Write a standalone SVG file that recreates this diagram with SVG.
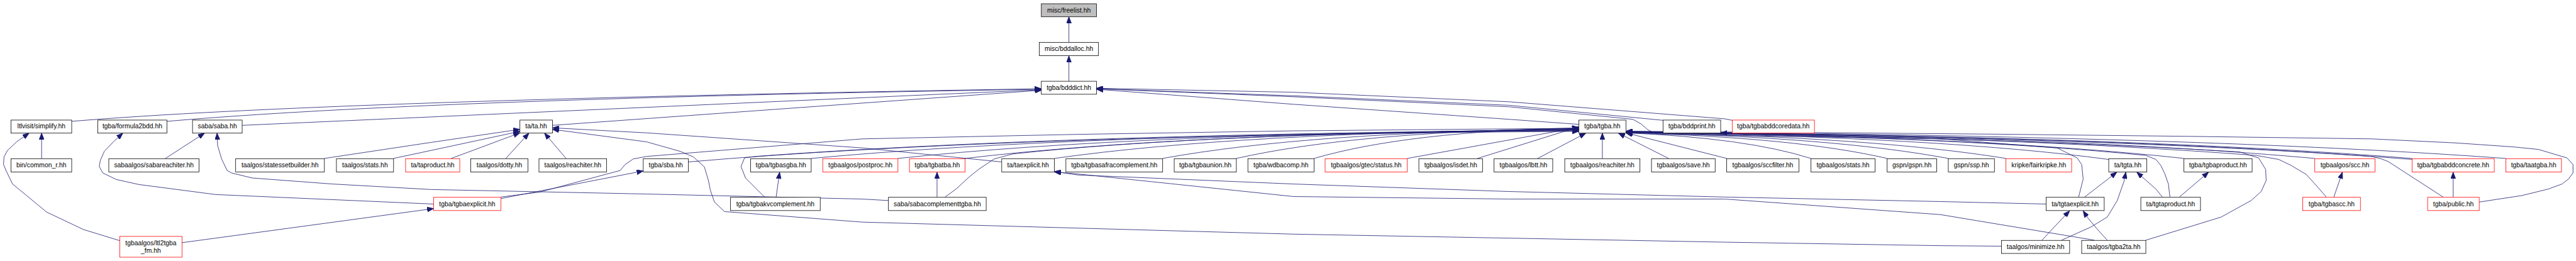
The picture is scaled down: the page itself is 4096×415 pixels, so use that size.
<svg xmlns="http://www.w3.org/2000/svg" width="4096" height="415" viewBox="0 0 4096 415">
<style>
.n rect{fill:#fff;stroke:#000;stroke-width:1}
.n.r rect{stroke:#f00}
.n.g rect{fill:#bfbfbf}
text{font-family:"Liberation Sans",Arial,Helvetica,sans-serif;font-size:13px;fill:#000;text-anchor:middle}
#edges path{fill:none;stroke:#191970;stroke-width:1;marker-end:url(#a)}
</style>
<defs>
<marker id="a" markerUnits="userSpaceOnUse" viewBox="0 0 13 10" markerWidth="13" markerHeight="10" refX="13" refY="5" orient="auto"><path d="M0,0L13,5L0,10z" fill="#191970" stroke="#191970" stroke-width="1"/></marker>
</defs>
<rect width="4096" height="415" fill="#fff"/>
<g transform="scale(0.79720)">
<g id="edges">
<path d="M2132,84 L2132,33.5"/>
<path d="M2132,162 L2132,111.5"/>
<path d="M143,242 Q650,200 2077,177"/>
<path d="M333,242 Q856,197 2077,178"/>
<path d="M483,250 L2077,179"/>
<path d="M1102,250 L2077,180"/>
<path d="M3149,248 L3010,238 L2580,208 L2187,178"/>
<path d="M3317,240 L3010,210 L2580,191 L2187,177"/>
<path d="M3455,240 L3440,237 L3010,203 L2580,184 L2187,176"/>
<path d="M4146,393 L4155,357 L4152,328 L4143,315 L4103,295 L3870,277 L3440,270 L3303,267 L3287,259 L3273,247 L3257,238 L3010,213 L2580,193 L2187,177"/>
<path d="M83,316 L83,265.5"/>
<path d="M239,480 L167,458 L93,423 L53,390 L25,367 L12,340 L7,328 L8,313 L15,300 L33,283 L58,265.5"/>
<path d="M865,407 L430,388 L277,368 L232,358 L205,345 L198,332 L200,320 L208,302 L227,282 L245,265.5"/>
<path d="M330,316 L408,265.5"/>
<path d="M1772,400 L1720,397 L1290,387 L860,378 L663,367 L503,355 L462,345 L453,340 L442,317 L434,290 L433,265.5"/>
<path d="M647,316 L860,284 L1037,258"/>
<path d="M785,316 L860,300 L1037,262"/>
<path d="M900,316 L1037,265"/>
<path d="M1009,316 L1055,265.5"/>
<path d="M1129,316 L1086,265.5"/>
<path d="M1998,323 L1720,295 L1290,265 L1102,255"/>
<path d="M3992,491 L3870,490 L3440,483 L3010,475 L2580,467 L2150,455 L1720,443 L1445,422 L1425,403 L1417,380 L1413,360 L1405,333 L1383,313 L1357,302 L1290,283 L1102,258"/>
<path d="M999,396 L1283,341"/>
<path d="M999,393 L1077,383 L1237,340 L1247,328 L1263,317 L1290,312 L1720,277 L2150,268 L2580,261 L3010,257 L3149,256"/>
<path d="M1373,323 Q1995,269 3149,262"/>
<path d="M1618,316 Q2150,266 3149,261"/>
<path d="M1791,316 Q2266,265 3149,260"/>
<path d="M1925,316 Q2354,265 3149,259"/>
<path d="M2103,316 Q2470,264 3149,258"/>
<path d="M2319,316 Q2610,263 3149,257"/>
<path d="M2466,316 Q2705,262 3149,256"/>
<path d="M2621,316 Q2806,262 3149,255"/>
<path d="M2807,316 L3149,254"/>
<path d="M2947,316 L3149,253"/>
<path d="M1525,393 L1487,355 L1478,332 L1485,315 L1507,312 Q2100,268 3149,259"/>
<path d="M1885,393 L1907,377 L1933,353 L1953,337 L1983,317 L2020,307 Q2400,266 3149,258"/>
<path d="M3067,316 L3163,265.5"/>
<path d="M3196,316 L3196,265.5"/>
<path d="M3328,316 L3228,265.5"/>
<path d="M3444,316 L3243,265"/>
<path d="M3612,316 Q3483,275 3243,265"/>
<path d="M3764,316 Q3582,274 3243,265"/>
<path d="M3886,316 Q3661,274 3243,264"/>
<path d="M4001,316 Q3736,273 3243,264"/>
<path d="M4206,318 Q3869,273 3243,264"/>
<path d="M4356,316 Q3966,273 3243,263"/>
<path d="M4617,316 Q4136,272 3243,263"/>
<path d="M4811,316 Q4262,272 3243,263"/>
<path d="M4811,318 Q4262,275 3432,265"/>
<path d="M4998,316 Q4384,271 3243,262"/>
<path d="M4640,393 L4620,370 L4600,348 L4570,330 L4545,318 L4500,310 Q4000,272 3243,263"/>
<path d="M4328,393 L4325,367 L4318,347 L4310,330 L4300,318 L4280,310 Q3900,272 3243,264"/>
<path d="M4873,393 L4763,322 L4750,317 L4730,312 Q4200,275 3243,262"/>
<path d="M4945,403 L5030,390 L5083,377 L5110,367 L5123,357 L5132,345 L5132,328 L5120,315 L5063,298 L5013,293 L4897,285 L4730,277 Q4000,266 3243,262"/>
<path d="M4280,479 L4300,473 L4430,433 L4490,400 L4510,382 L4520,360 L4519,338 L4505,315 L4467,303 Q4000,275 3243,263"/>
<path d="M4112,479 L4170,453 L4203,433 L4223,400 L4237,360 L4240,343.5"/>
<path d="M4073,479 L4097,453 L4128,420.5"/>
<path d="M4203,479 L4183,457 L4163,433 L4155,420.5"/>
<path d="M4158,393 L4222,343.5"/>
<path d="M4313,393 L4300,377 L4262,343.5"/>
<path d="M4347,393 L4405,343.5"/>
<path d="M4655,393 L4672,343.5"/>
<path d="M4893,393 L4893,343.5"/>
<path d="M1548,393 L1555,343.5"/>
<path d="M1869,393 L1869,343.5"/>
<path d="M4081,407 L3870,402 L3440,393 L3010,382 L2580,367 L2150,349 L2103,342"/>
<path d="M4177,479 L3870,428 L3440,397 L3010,397 L2580,392 L2150,347 L2103,343"/>
<path d="M363,484 L430,475 L865,416"/>
</g>
<g id="node-freelist" class="n g"><rect x="2077" y="7.5" width="110" height="26"/><text x="2132" y="25">misc/freelist.hh</text></g>
<g id="node-bddalloc" class="n"><rect x="2073" y="84.5" width="118" height="26.5"/><text x="2132" y="102">misc/bddalloc.hh</text></g>
<g id="node-bdddict" class="n"><rect x="2077" y="162" width="110" height="26"/><text x="2132" y="179.5">tgba/bdddict.hh</text></g>
<g id="node-simplify" class="n"><rect x="22" y="239.5" width="121" height="26"/><text x="82.5" y="256.5">ltlvisit/simplify.hh</text></g>
<g id="node-formula2bdd" class="n"><rect x="195" y="239.5" width="138" height="26"/><text x="264" y="256.5">tgba/formula2bdd.hh</text></g>
<g id="node-saba" class="n"><rect x="384" y="239.5" width="99" height="26"/><text x="433.5" y="256.5">saba/saba.hh</text></g>
<g id="node-ta" class="n"><rect x="1037" y="239.5" width="65" height="26"/><text x="1069.5" y="256.5">ta/ta.hh</text></g>
<g id="node-tgba" class="n"><rect x="3149" y="239.5" width="94" height="26"/><text x="3196" y="256.5">tgba/tgba.hh</text></g>
<g id="node-bddprint" class="n"><rect x="3317" y="239.5" width="115" height="26"/><text x="3374.5" y="256.5">tgba/bddprint.hh</text></g>
<g id="node-tgbabddcoredata" class="n r"><rect x="3455" y="239.5" width="164" height="26"/><text x="3537" y="256.5">tgba/tgbabddcoredata.hh</text></g>
<g id="node-common_r" class="n"><rect x="22" y="316.5" width="121" height="26.5"/><text x="82.5" y="334">bin/common_r.hh</text></g>
<g id="node-sabareachiter" class="n"><rect x="217" y="316.5" width="180" height="26.5"/><text x="307" y="334">sabaalgos/sabareachiter.hh</text></g>
<g id="node-statessetbuilder" class="n"><rect x="470" y="316.5" width="177" height="26.5"/><text x="558.5" y="334">taalgos/statessetbuilder.hh</text></g>
<g id="node-tastats" class="n"><rect x="671" y="316.5" width="114" height="26.5"/><text x="728" y="334">taalgos/stats.hh</text></g>
<g id="node-taproduct" class="n r"><rect x="809" y="316.5" width="108" height="26.5"/><text x="863" y="334">ta/taproduct.hh</text></g>
<g id="node-dotty" class="n"><rect x="939" y="316.5" width="114" height="26.5"/><text x="996" y="334">taalgos/dotty.hh</text></g>
<g id="node-tareachiter" class="n"><rect x="1075" y="316.5" width="135" height="26.5"/><text x="1142.5" y="334">taalgos/reachiter.hh</text></g>
<g id="node-sba" class="n"><rect x="1283" y="316.5" width="90" height="26.5"/><text x="1328" y="334">tgba/sba.hh</text></g>
<g id="node-tgbasgba" class="n"><rect x="1497" y="316.5" width="121" height="26.5"/><text x="1557.5" y="334">tgba/tgbasgba.hh</text></g>
<g id="node-postproc" class="n r"><rect x="1641" y="316.5" width="150" height="26.5"/><text x="1716" y="334">tgbaalgos/postproc.hh</text></g>
<g id="node-tgbatba" class="n r"><rect x="1814" y="316.5" width="111" height="26.5"/><text x="1869.5" y="334">tgba/tgbatba.hh</text></g>
<g id="node-taexplicit" class="n"><rect x="1998" y="316.5" width="105" height="26.5"/><text x="2050.5" y="334">ta/taexplicit.hh</text></g>
<g id="node-safra" class="n"><rect x="2126" y="316.5" width="193" height="26.5"/><text x="2222.5" y="334">tgba/tgbasafracomplement.hh</text></g>
<g id="node-tgbaunion" class="n"><rect x="2342" y="316.5" width="124" height="26.5"/><text x="2404" y="334">tgba/tgbaunion.hh</text></g>
<g id="node-wdbacomp" class="n"><rect x="2489" y="316.5" width="132" height="26.5"/><text x="2555" y="334">tgba/wdbacomp.hh</text></g>
<g id="node-status" class="n r"><rect x="2643" y="316.5" width="164" height="26.5"/><text x="2725" y="334">tgbaalgos/gtec/status.hh</text></g>
<g id="node-isdet" class="n"><rect x="2830" y="316.5" width="127" height="26.5"/><text x="2893.5" y="334">tgbaalgos/isdet.hh</text></g>
<g id="node-lbtt" class="n"><rect x="2980" y="316.5" width="117" height="26.5"/><text x="3038.5" y="334">tgbaalgos/lbtt.hh</text></g>
<g id="node-reachiter" class="n"><rect x="3121" y="316.5" width="150" height="26.5"/><text x="3196" y="334">tgbaalgos/reachiter.hh</text></g>
<g id="node-save" class="n"><rect x="3294" y="316.5" width="127" height="26.5"/><text x="3357.5" y="334">tgbaalgos/save.hh</text></g>
<g id="node-sccfilter" class="n"><rect x="3444" y="316.5" width="144" height="26.5"/><text x="3516" y="334">tgbaalgos/sccfilter.hh</text></g>
<g id="node-stats" class="n"><rect x="3612" y="316.5" width="128" height="26.5"/><text x="3676" y="334">tgbaalgos/stats.hh</text></g>
<g id="node-gspn" class="n"><rect x="3764" y="316.5" width="99" height="26.5"/><text x="3813.5" y="334">gspn/gspn.hh</text></g>
<g id="node-ssp" class="n"><rect x="3886" y="316.5" width="92" height="26.5"/><text x="3932" y="334">gspn/ssp.hh</text></g>
<g id="node-fairkripke" class="n r"><rect x="4001" y="316.5" width="131" height="26.5"/><text x="4066.5" y="334">kripke/fairkripke.hh</text></g>
<g id="node-tgta" class="n"><rect x="4206" y="316.5" width="76" height="26.5"/><text x="4244" y="334">ta/tgta.hh</text></g>
<g id="node-tgbaproduct" class="n"><rect x="4356" y="316.5" width="136" height="26.5"/><text x="4424" y="334">tgba/tgbaproduct.hh</text></g>
<g id="node-scc" class="n r"><rect x="4617" y="316.5" width="120" height="26.5"/><text x="4677" y="334">tgbaalgos/scc.hh</text></g>
<g id="node-tgbabddconcrete" class="n r"><rect x="4811" y="316.5" width="164" height="26.5"/><text x="4893" y="334">tgba/tgbabddconcrete.hh</text></g>
<g id="node-taatgba" class="n r"><rect x="4998" y="316.5" width="111" height="26.5"/><text x="5053.5" y="334">tgba/taatgba.hh</text></g>
<g id="node-tgbaexplicit" class="n r"><rect x="865" y="393.5" width="134" height="26.5"/><text x="932" y="411">tgba/tgbaexplicit.hh</text></g>
<g id="node-kvcomplement" class="n"><rect x="1457" y="393.5" width="179" height="26.5"/><text x="1546.5" y="411">tgba/tgbakvcomplement.hh</text></g>
<g id="node-sabacomplementtgba" class="n"><rect x="1772" y="393.5" width="195" height="26.5"/><text x="1869.5" y="411">saba/sabacomplementtgba.hh</text></g>
<g id="node-tgtaexplicit" class="n"><rect x="4081" y="393.5" width="116" height="26.5"/><text x="4139" y="411">ta/tgtaexplicit.hh</text></g>
<g id="node-tgtaproduct" class="n"><rect x="4270" y="393.5" width="119" height="26.5"/><text x="4329.5" y="411">ta/tgtaproduct.hh</text></g>
<g id="node-tgbascc" class="n r"><rect x="4593" y="393.5" width="115" height="26.5"/><text x="4650.5" y="411">tgba/tgbascc.hh</text></g>
<g id="node-public" class="n r"><rect x="4842" y="393.5" width="103" height="26.5"/><text x="4893.5" y="411">tgba/public.hh</text></g>
<g id="node-ltl2tgba_fm" class="n r"><rect x="239" y="471.5" width="124" height="41.5"/><text x="301" y="489">tgbaalgos/ltl2tgba</text><text x="301" y="504.5">_fm.hh</text></g>
<g id="node-minimize" class="n"><rect x="3992" y="479.5" width="136" height="26"/><text x="4060" y="497">taalgos/minimize.hh</text></g>
<g id="node-tgba2ta" class="n"><rect x="4152" y="479.5" width="128" height="26"/><text x="4216" y="497">taalgos/tgba2ta.hh</text></g>
</g>
</svg>
